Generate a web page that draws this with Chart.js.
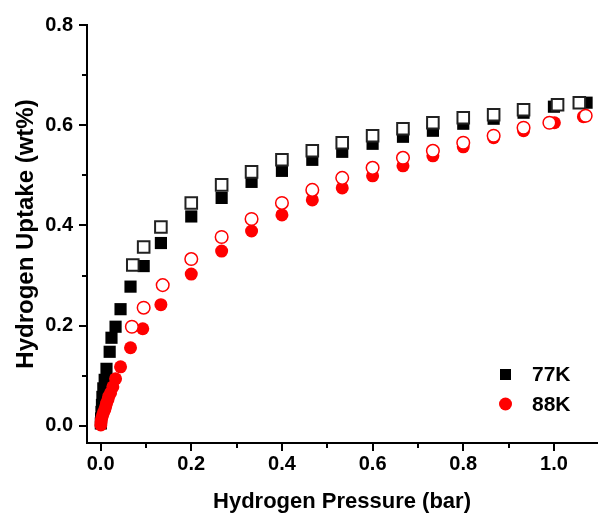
<!DOCTYPE html>
<html>
<head>
<meta charset="utf-8">
<script src="https://cdn.jsdelivr.net/npm/chart.js@4/dist/chart.umd.min.js"></script>
<style>
  html, body { margin: 0; padding: 0; background: #fff; }
  #wrap { width: 598px; height: 516px; }
</style>
</head>
<body>
<div id="wrap"><canvas id="c" width="598" height="516"></canvas></div>
<script>
// H2 isotherms: pressure (bar) vs uptake (wt%)
const ads77P = [0.0005, 0.001, 0.002, 0.003, 0.004, 0.006, 0.009, 0.013, 0.020, 0.024, 0.033, 0.044, 0.066, 0.095, 0.133, 0.200, 0.267, 0.333, 0.400, 0.467, 0.533, 0.600, 0.667, 0.733, 0.800, 0.867, 0.933, 1.000, 1.072];
const ads77U = [0.005, 0.015, 0.028, 0.042, 0.058, 0.075, 0.092, 0.114, 0.148, 0.176, 0.198, 0.233, 0.278, 0.319, 0.365, 0.418, 0.455, 0.487, 0.509, 0.531, 0.547, 0.563, 0.577, 0.589, 0.603, 0.613, 0.625, 0.637, 0.645];
const des77P = [0.071, 0.095, 0.133, 0.200, 0.267, 0.333, 0.400, 0.467, 0.533, 0.600, 0.667, 0.733, 0.800, 0.867, 0.933, 1.008, 1.056];
const des77U = [0.321, 0.357, 0.397, 0.445, 0.481, 0.507, 0.531, 0.549, 0.565, 0.579, 0.593, 0.605, 0.615, 0.621, 0.631, 0.641, 0.645];
const ads88P = [0.0005, 0.001, 0.002, 0.004, 0.006, 0.009, 0.011, 0.013, 0.016, 0.018, 0.022, 0.027, 0.033, 0.044, 0.066, 0.093, 0.133, 0.200, 0.267, 0.333, 0.400, 0.467, 0.533, 0.600, 0.667, 0.733, 0.800, 0.867, 0.933, 1.001, 1.065];
const ads88U = [0.002, 0.008, 0.014, 0.020, 0.026, 0.032, 0.038, 0.045, 0.052, 0.059, 0.066, 0.078, 0.094, 0.118, 0.156, 0.194, 0.242, 0.303, 0.349, 0.389, 0.421, 0.451, 0.475, 0.499, 0.519, 0.539, 0.557, 0.575, 0.589, 0.605, 0.617];
const des88P = [0.069, 0.095, 0.137, 0.200, 0.267, 0.333, 0.400, 0.467, 0.533, 0.600, 0.667, 0.733, 0.800, 0.867, 0.933, 0.990, 1.070];
const des88U = [0.198, 0.236, 0.281, 0.333, 0.377, 0.413, 0.445, 0.471, 0.495, 0.515, 0.535, 0.549, 0.565, 0.579, 0.595, 0.605, 0.619];

const seriesNames = ['77K', '88K'];
const xMajorTicks = [0.0, 0.2, 0.4, 0.6, 0.8, 1.0];
const xMinorTicks = [0.1, 0.3, 0.5, 0.7, 0.9];
const yMajorTicks = [0.0, 0.2, 0.4, 0.6, 0.8];
const yMinorTicks = [0.1, 0.3, 0.5, 0.7];
const xTitle = 'Hydrogen Pressure (bar)';
const yTitle = 'Hydrogen Uptake (wt%)';

const FONT = '"Liberation Sans", Arial, sans-serif';
const RED = '#ff0000';

const pts = (xs, ys) => xs.map((x, i) => ({ x: x, y: ys[i] }));

function setTicks(majors, minors) {
  return function (scale) {
    const all = majors.map(v => ({ value: v, major: true }))
      .concat(minors.map(v => ({ value: v, major: false })));
    all.sort((a, b) => a.value - b.value);
    scale.ticks = all;
  };
}

// Outward tick marks: long for labelled ticks, short for the ones between
const tickMarks = {
  id: 'tickMarks',
  afterDraw(chart) {
    const ctx = chart.ctx;
    const xs = chart.scales.x, ys = chart.scales.y;
    ctx.save();
    ctx.strokeStyle = '#000';
    ctx.lineWidth = 2;
    ctx.beginPath();
    xs.ticks.forEach(t => {
      const px = Math.round(xs.getPixelForValue(t.value));
      const len = t.major ? 8 : 5;
      ctx.moveTo(px, xs.top);
      ctx.lineTo(px, xs.top + len);
    });
    ys.ticks.forEach(t => {
      const py = Math.round(ys.getPixelForValue(t.value));
      const len = t.major ? 8 : 5;
      ctx.moveTo(ys.right, py);
      ctx.lineTo(ys.right - len, py);
    });
    ctx.stroke();
    ctx.restore();
  }
};

// Legend inside the plot, lower right
const innerLegend = {
  id: 'innerLegend',
  afterDraw(chart) {
    const ctx = chart.ctx;
    const a = chart.chartArea;
    const mx = a.right - 92;
    const tx = a.right - 65;
    const rows = [a.bottom - 69, a.bottom - 39];
    ctx.save();
    ctx.fillStyle = '#000';
    ctx.fillRect(mx - 5, rows[0] - 5, 11, 11);
    ctx.fillStyle = RED;
    ctx.beginPath();
    ctx.arc(mx + 0.5, rows[1], 6.5, 0, Math.PI * 2);
    ctx.fill();
    ctx.fillStyle = '#000';
    ctx.font = 'bold 21px ' + FONT;
    ctx.textBaseline = 'middle';
    ctx.textAlign = 'left';
    ctx.fillText(seriesNames[0], tx, rows[0] + 1);
    ctx.fillText(seriesNames[1], tx, rows[1] + 1);
    ctx.restore();
  }
};

new Chart(document.getElementById('c'), {
  type: 'scatter',
  data: {
    datasets: [
      {
        label: seriesNames[1] + ' desorption',
        data: pts(des88P, des88U),
        pointStyle: 'circle', pointRadius: 6.3,
        backgroundColor: '#fff', borderColor: RED, borderWidth: 1.5,
        order: 0
      },
      {
        label: seriesNames[0] + ' desorption',
        data: pts(des77P, des77U),
        pointStyle: 'rect', pointRadius: 8.2,
        backgroundColor: '#fff', borderColor: '#222', borderWidth: 2,
        order: 1
      },
      {
        label: seriesNames[1],
        data: pts(ads88P, ads88U),
        pointStyle: 'circle', pointRadius: 6.5,
        backgroundColor: RED, borderColor: RED, borderWidth: 0,
        order: 2
      },
      {
        label: seriesNames[0],
        data: pts(ads77P, ads77U),
        pointStyle: 'rect', pointRadius: 8.6,
        backgroundColor: '#000', borderColor: '#000', borderWidth: 0,
        order: 3
      }
    ]
  },
  options: {
    responsive: false,
    animation: false,
    devicePixelRatio: 1,
    layout: { autoPadding: false, padding: { top: 25, right: 1, left: 0, bottom: 0 } },
    plugins: {
      legend: { display: false },
      tooltip: { enabled: false }
    },
    elements: { point: { hoverRadius: 6 } },
    scales: {
      x: {
        type: 'linear',
        min: -0.03,
        max: 1.095,
        afterBuildTicks: setTicks(xMajorTicks, xMinorTicks),
        afterFit(scale) { scale.height = 73; scale.paddingLeft = 0; scale.paddingRight = 0; },
        border: { display: true, color: '#000', width: 2 },
        grid: { display: true, drawOnChartArea: false, drawTicks: true, tickLength: 8, tickColor: 'rgba(0,0,0,0)' },
        ticks: {
          autoSkip: false, maxRotation: 0, padding: 1,
          color: '#000',
          font: { family: FONT, size: 20, weight: 'bold' },
          callback: (v) => xMajorTicks.some(m => Math.abs(m - v) < 1e-9) ? Number(v).toFixed(1) : ''
        },
        title: {
          display: true, text: xTitle, color: '#000',
          font: { family: FONT, size: 22, weight: 'bold' },
          padding: { top: 0, bottom: 1 }
        }
      },
      y: {
        type: 'linear',
        min: -0.034,
        max: 0.8,
        afterBuildTicks: setTicks(yMajorTicks, yMinorTicks),
        afterFit(scale) { scale.width = 87; scale.paddingTop = 0; scale.paddingBottom = 0; },
        border: { display: true, color: '#000', width: 2 },
        grid: { display: true, drawOnChartArea: false, drawTicks: true, tickLength: 8, tickColor: 'rgba(0,0,0,0)' },
        ticks: {
          autoSkip: false, padding: 6,
          color: '#000',
          font: { family: FONT, size: 20, weight: 'bold' },
          callback: (v) => yMajorTicks.some(m => Math.abs(m - v) < 1e-9) ? Number(v).toFixed(1) : ''
        },
        title: {
          display: true, text: yTitle, color: '#000',
          font: { family: FONT, size: 24, weight: 'bold' },
          padding: { top: 12, bottom: 0 }
        }
      }
    }
  },
  plugins: [tickMarks, innerLegend]
});
</script>
</body>
</html>
